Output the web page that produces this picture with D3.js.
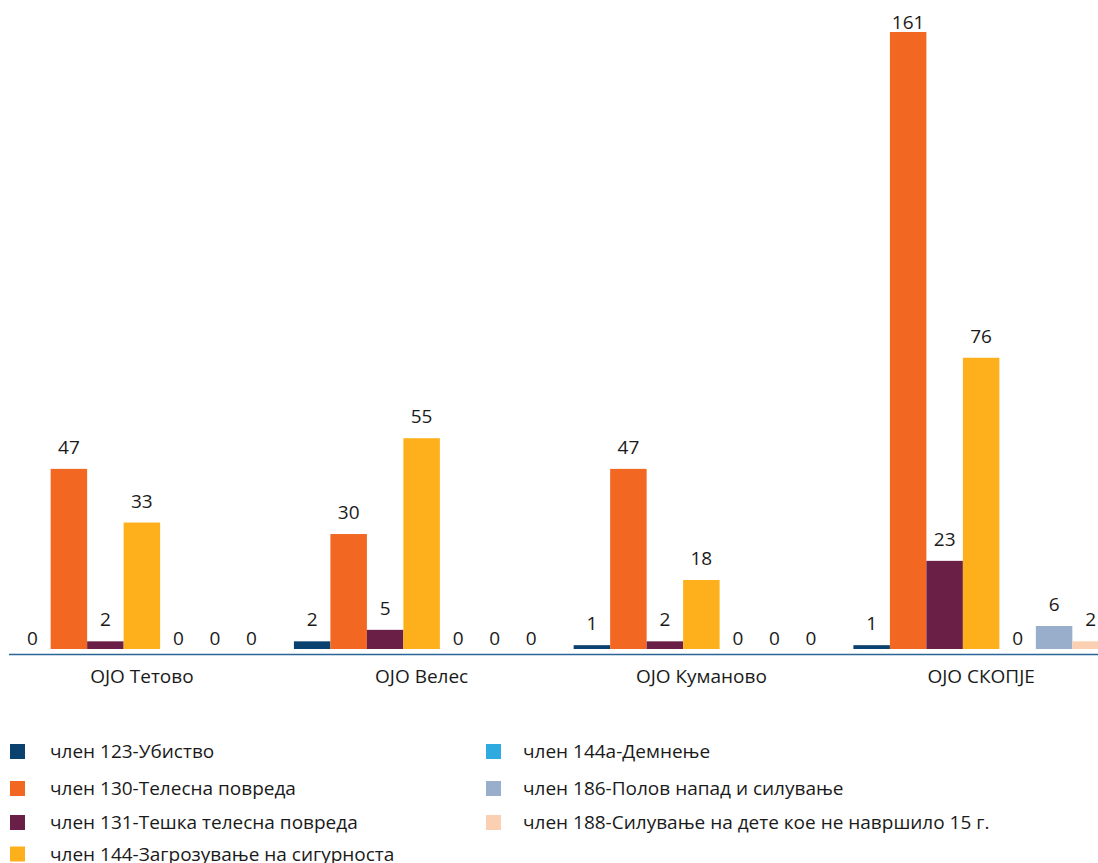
<!DOCTYPE html>
<html>
<head>
<meta charset="utf-8">
<script src="https://cdn.jsdelivr.net/npm/d3@7"></script>
<style>
  html, body { margin: 0; padding: 0; background: #ffffff; overflow: hidden; }
  svg { display: block; font-family: "Open Sans", "Noto Sans", sans-serif; }
</style>
</head>
<body>
<svg id="chart" width="1098" height="863"></svg>
<script>
// ---- data ----
const categories = ["ОЈО Тетово", "ОЈО Велес", "ОЈО Куманово", "ОЈО СКОПЈЕ"];
const seriesNames = [
  "член 123-Убиство",
  "член 130-Телесна повреда",
  "член 131-Тешка телесна повреда",
  "член 144-Загрозување на сигурноста",
  "член 144а-Демнење",
  "член 186-Полов напад и силување",
  "член 188-Силување на дете кое не навршило 15 г."
];
const s123 = [0, 2, 1, 1];
const s130 = [47, 30, 47, 161];
const s131 = [2, 5, 2, 23];
const s144 = [33, 55, 18, 76];
const s144a = [0, 0, 0, 0];
const s186 = [0, 0, 0, 6];
const s188 = [0, 0, 0, 2];
const seriesValues = [s123, s130, s131, s144, s144a, s186, s188];
const colors = ["#0b416f", "#f26722", "#6a1f47", "#fdb01c", "#2eaae0", "#98aeca", "#fbcfb2"];

// ---- layout ----
const svg = d3.select("#chart");
const baseY = 649, topY = 32;

const x0 = d3.scaleBand().domain(categories).range([2, 1121])
  .paddingInner(0.087).paddingOuter(0.0435);
const x1 = d3.scaleBand().domain(seriesNames).range([0, x0.bandwidth()]).padding(0);
const y = d3.scaleLinear().domain([0, 161]).range([baseY, topY]);

const rows = [];
categories.forEach((c, ci) => {
  seriesNames.forEach((s, si) => {
    rows.push({ cat: c, ser: s, si, v: seriesValues[si][ci] });
  });
});

const g = svg.append("g");

g.selectAll("rect.bar").data(rows).enter().append("rect")
  .attr("class", "bar")
  .attr("x", d => x0(d.cat) + x1(d.ser))
  .attr("width", x1.bandwidth())
  .attr("y", d => y(d.v))
  .attr("height", d => y(0) - y(d.v))
  .attr("fill", d => colors[d.si]);

g.selectAll("text.val").data(rows).enter().append("text")
  .attr("class", "val")
  .attr("x", d => x0(d.cat) + x1(d.ser) + x1.bandwidth() / 2)
  .attr("y", d => Math.max(29, y(d.v) - (d.v === 0 ? 4 : 15)))
  .attr("text-anchor", "middle")
  .attr("font-size", 19)
  .attr("fill", "#1a1a1a")
  .text(d => d.v);

// axis line
const xAxis = d3.axisBottom(x0).tickSize(0).tickPadding(0);
const axisG = svg.append("g").attr("transform", `translate(0,${654.5})`).call(xAxis);
axisG.select(".domain").attr("stroke", "#2b6496").attr("stroke-width", 1.6)
  .attr("d", "M9,0H1121");
axisG.selectAll(".tick text")
  .attr("font-family", "'Open Sans', sans-serif")
  .attr("font-size", 19)
  .attr("fill", "#1a1a1a")
  .attr("dy", null)
  .attr("y", 28.5);

// legend
const legendCols = [10, 486];
const legendRowsY = [751.5, 788.5, 822.5, 854];
const legend = svg.append("g");
seriesNames.forEach((s, i) => {
  const col = i < 4 ? 0 : 1;
  const row = i < 4 ? i : i - 4;
  const lx = legendCols[col], ly = legendRowsY[row];
  legend.append("rect")
    .attr("x", lx).attr("y", ly - 7.5).attr("width", 15).attr("height", 15)
    .attr("fill", colors[i]);
  legend.append("text")
    .attr("x", lx + 40 - (col ? 3 : 0)).attr("y", ly + 6.5)
    .attr("font-size", 19).attr("fill", "#1a1a1a")
    .text(s);
});
</script>
</body>
</html>
